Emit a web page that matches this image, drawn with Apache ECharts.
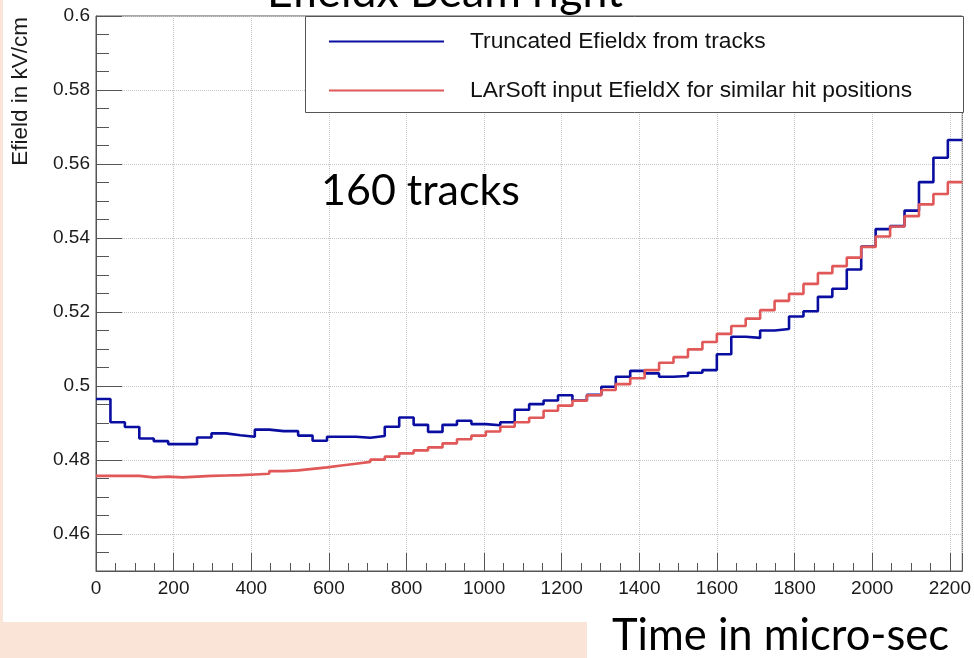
<!DOCTYPE html>
<html>
<head>
<meta charset="utf-8">
<script src="https://cdn.jsdelivr.net/npm/echarts@6/dist/echarts.min.js"></script>
<style>
  html, body { margin: 0; padding: 0; background: #ffffff; }
  #chart { width: 974px; height: 658px; }
</style>
</head>
<body>
<div id="chart"></div>
<script>
// Histogram binning: 60 bins over the drift-time window (micro-seconds)
const binWidth = 37.2;
const timeMin = 0;
const timeMax = 2232;

// E-field (kV/cm) per time bin
const truncatedEfieldx = [
  0.4965, 0.4902, 0.4889, 0.4858, 0.4851, 0.4843, 0.4843, 0.4861, 0.4872, 0.4867,
  0.4863, 0.4882, 0.4878, 0.4878, 0.4866, 0.4852, 0.4863, 0.4863, 0.4860, 0.4865,
  0.4890, 0.4915, 0.4895, 0.4876, 0.4895, 0.4906, 0.4897, 0.4894, 0.4902, 0.4936,
  0.4951, 0.4961, 0.4975, 0.4961, 0.4976, 0.4998, 0.5025, 0.5041, 0.5034, 0.5025,
  0.5027, 0.5036, 0.5043, 0.5086, 0.5133, 0.5130, 0.5150, 0.5154, 0.5188, 0.5202,
  0.5241, 0.5263, 0.5315, 0.5377, 0.5424, 0.5432, 0.5474, 0.5551, 0.5617, 0.5665
];
const larsoftEfieldX = [
  0.4757, 0.4757, 0.4757, 0.4753, 0.4755, 0.4753, 0.4755, 0.4757, 0.4758, 0.4759,
  0.4761, 0.4763, 0.4770, 0.4772, 0.4776, 0.4780, 0.4785, 0.4790, 0.4795, 0.4801,
  0.4809, 0.4818, 0.4826, 0.4834, 0.4845, 0.4856, 0.4866, 0.4877, 0.4890, 0.4902,
  0.4914, 0.4933, 0.4947, 0.4960, 0.4975, 0.4989, 0.5005, 0.5021, 0.5043, 0.5063,
  0.5078, 0.5099, 0.5119, 0.5141, 0.5162, 0.5182, 0.5205, 0.5230, 0.5249, 0.5276,
  0.5305, 0.5324, 0.5347, 0.5376, 0.5404, 0.5431, 0.5459, 0.5491, 0.5519, 0.5551
];
const seriesNames = [
  'Truncated Efieldx from tracks',
  'LArSoft input EfieldX for similar hit positions'
];
const seriesColors = ['#0a0ea0', '#e05858'];

const titleText = 'Efieldx Beam right';
const noteText = '160 tracks';
const xTitle = 'Time in micro-sec';
const yTitle = 'Efield in kV/cm';

// Turn bin contents into histogram step vertices (left bin edges + closing right edge)
function histSteps(values) {
  const pts = values.map((v, i) => [timeMin + i * binWidth, v]);
  pts.push([timeMin + values.length * binWidth, values[values.length - 1]]);
  return pts;
}

const axisColor = '#555555';
const gridColor = '#c6c6c6';
const rootFont = 'Liberation Sans';
const slideFont = 'Lato';
const peach = '#fae4d7';

const chart = echarts.init(document.getElementById('chart'), null, { renderer: 'canvas' });

chart.setOption({
  backgroundColor: '#ffffff',
  animation: false,
  grid: {
    left: 96, right: 10, top: 16, bottom: 87,
    show: true, borderColor: axisColor, borderWidth: 1,
    backgroundColor: 'transparent'
  },
  xAxis: {
    type: 'value',
    min: timeMin,
    max: timeMax,
    interval: 200,
    axisLine: { show: true, onZero: false, lineStyle: { color: axisColor, width: 1 } },
    axisTick: { show: true, inside: true, length: 18, lineStyle: { color: axisColor, width: 1 } },
    minorTick: { show: true, splitNumber: 4, length: 8, lineStyle: { color: axisColor, width: 1 } },
    splitLine: { show: true, lineStyle: { color: gridColor, type: 'dotted', width: 1 } },
    axisLabel: {
      fontFamily: rootFont, fontSize: 19, color: '#1a1a1a', margin: 8,
      showMaxLabel: false,
      formatter: v => String(Math.round(v))
    }
  },
  yAxis: {
    type: 'value',
    min: 0.45,
    max: 0.6,
    splitNumber: 7,
    axisLine: { show: true, onZero: false, lineStyle: { color: axisColor, width: 1 } },
    axisTick: { show: true, inside: true, length: 26, lineStyle: { color: axisColor, width: 1 } },
    minorTick: { show: true, splitNumber: 4, length: 13, lineStyle: { color: axisColor, width: 1 } },
    splitLine: { show: true, lineStyle: { color: gridColor, type: 'dotted', width: 1 } },
    axisLabel: {
      fontFamily: rootFont, fontSize: 19, color: '#1a1a1a', margin: 6,
      showMinLabel: false,
      formatter: v => String(parseFloat(v.toFixed(3)))
    }
  },
  legend: {
    orient: 'vertical',
    left: 329,
    top: 30,
    padding: 0,
    icon: 'rect',
    itemWidth: 115,
    itemHeight: 2,
    itemGap: 26,
    selectedMode: false,
    textStyle: { fontFamily: rootFont, fontSize: 22.8, color: '#111111', padding: [0, 0, 0, 21] },
    data: seriesNames
  },
  graphic: [
    { type: 'rect', z: -1, shape: { x: 0, y: 0, width: 3, height: 622 }, style: { fill: peach } },
    { type: 'rect', z: -1, shape: { x: 0, y: 622, width: 587, height: 36 }, style: { fill: peach } },
    {
      type: 'rect', z: 3,
      shape: { x: 305.5, y: 16.5, width: 658, height: 96 },
      style: { fill: '#ffffff', stroke: axisColor, lineWidth: 1 }
    },
    {
      type: 'text', z: 5, x: 21, y: 17, rotation: Math.PI / 2,
      style: { text: yTitle, fontFamily: rootFont, fontSize: 22.5, fill: '#1a1a1a', align: 'right', verticalAlign: 'middle' }
    },
    {
      type: 'text', z: 5, x: 267, y: -7,
      style: { text: titleText, fontFamily: slideFont, fontSize: 44.6, fill: '#000000', align: 'left', verticalAlign: 'middle' }
    },
    {
      type: 'text', z: 5, x: 321, y: 191,
      style: { text: noteText, fontFamily: slideFont, fontSize: 43, fill: '#000000', align: 'left', verticalAlign: 'middle' }
    },
    {
      type: 'text', z: 5, x: 612, y: 636,
      style: { text: xTitle, fontFamily: slideFont, fontSize: 43.5, fill: '#000000', align: 'left', verticalAlign: 'middle' }
    }
  ],
  series: [
    {
      name: seriesNames[0],
      type: 'line',
      step: 'end',
      symbol: 'none',
      color: seriesColors[0],
      lineStyle: { color: seriesColors[0], width: 2.6 },
      data: histSteps(truncatedEfieldx),
      z: 2
    },
    {
      name: seriesNames[1],
      type: 'line',
      step: 'end',
      symbol: 'none',
      color: seriesColors[1],
      lineStyle: { color: seriesColors[1], width: 2.6 },
      data: histSteps(larsoftEfieldX),
      z: 2
    }
  ]
});
</script>
</body>
</html>
